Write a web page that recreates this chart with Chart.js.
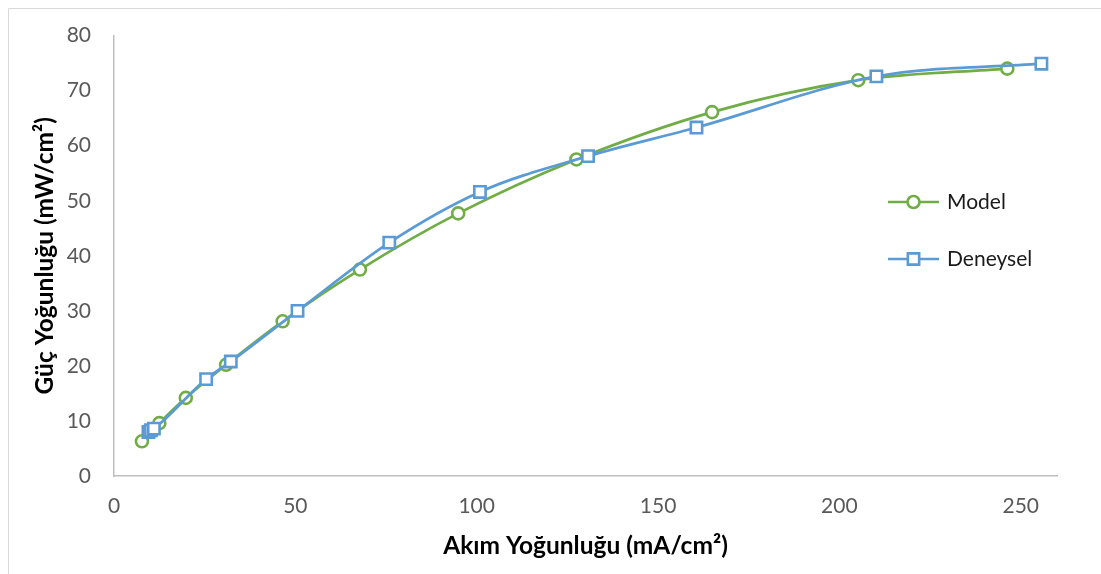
<!DOCTYPE html>
<html>
<head>
<meta charset="utf-8">
<script src="https://cdn.jsdelivr.net/npm/chart.js@4.4.1/dist/chart.umd.min.js"></script>
<style>
  html, body { margin: 0; padding: 0; background: #ffffff; }
  #wrap { position: relative; width: 1101px; height: 574px; }
  canvas { display: block; }
</style>
</head>
<body>
<div id="wrap"><canvas id="c" width="1101" height="574"></canvas></div>
<script>
// Current density (mA/cm²) and power density (mW/cm²) for each series
const modelX = [7.7, 12.5, 19.8, 30.9, 46.5, 67.8, 94.9, 127.5, 164.9, 205.2, 246.3];
const modelY = [6.3, 9.6, 14.2, 20.2, 28.1, 37.5, 47.7, 57.5, 66.1, 71.9, 74.0];

const deneyX = [9.5, 10.2, 11.0, 25.4, 32.2, 50.6, 75.9, 100.9, 130.7, 160.6, 210.2, 255.7];
const deneyY = [8.0, 8.3, 8.6, 17.6, 20.8, 30.0, 42.4, 51.6, 58.1, 63.3, 72.6, 74.9];

const seriesNames = ['Model', 'Deneysel'];
const xTicks = [0, 50, 100, 150, 200, 250];
const yTicks = [0, 10, 20, 30, 40, 50, 60, 70, 80];

const xTitle = 'Akım Yoğunluğu (mA/cm²)';
const yTitle = 'Güç Yoğunluğu (mW/cm²)';

const GREEN = '#70AD47';
const BLUE = '#5B9BD5';
const FONT = 'Lato, "Liberation Sans", sans-serif';

const toPoints = (xs, ys) => xs.map((x, i) => ({ x: x, y: ys[i] }));

// Thin frame along the top and left edge of the figure
const framePlugin = {
  id: 'frame',
  beforeDraw(chart) {
    const ctx = chart.ctx;
    ctx.save();
    ctx.fillStyle = '#ffffff';
    ctx.fillRect(0, 0, chart.width, chart.height);
    ctx.strokeStyle = '#d9d9d9';
    ctx.lineWidth = 1;
    ctx.beginPath();
    ctx.moveTo(8.5, chart.height);
    ctx.lineTo(8.5, 8.5);
    ctx.lineTo(chart.width, 8.5);
    ctx.stroke();
    ctx.restore();
  }
};

// Legend with a line sample and marker for each series, placed inside the plot
const lineLegend = {
  id: 'lineLegend',
  afterDraw(chart) {
    const ctx = chart.ctx;
    const x0 = 888, x1 = 939, textX = 947;
    const rows = [202, 259];
    chart.data.datasets.forEach((ds, i) => {
      const y = rows[i];
      ctx.save();
      ctx.strokeStyle = ds.borderColor;
      ctx.lineWidth = ds.borderWidth;
      ctx.beginPath();
      ctx.moveTo(x0, y);
      ctx.lineTo(x1, y);
      ctx.stroke();
      ctx.fillStyle = '#ffffff';
      ctx.lineWidth = ds.pointBorderWidth;
      const cx = (x0 + x1) / 2;
      ctx.beginPath();
      if (ds.pointStyle === 'rect') {
        const s = Math.SQRT1_2 * ds.pointRadius;
        ctx.rect(cx - s, y - s, 2 * s, 2 * s);
      } else {
        ctx.arc(cx, y, ds.pointRadius, 0, Math.PI * 2);
      }
      ctx.fill();
      ctx.stroke();
      ctx.fillStyle = '#1a1a1a';
      ctx.font = '21px ' + FONT;
      ctx.textBaseline = 'middle';
      ctx.textAlign = 'left';
      ctx.fillText(ds.label, textX, y);
      ctx.restore();
    });
  }
};

new Chart(document.getElementById('c'), {
  type: 'scatter',
  data: {
    datasets: [
      {
        label: seriesNames[0],
        data: toPoints(modelX, modelY),
        showLine: true,
        cubicInterpolationMode: 'monotone',
        borderColor: GREEN,
        borderWidth: 2.7,
        pointStyle: 'circle',
        pointRadius: 6,
        pointBorderWidth: 2.6,
        pointBackgroundColor: '#ffffff',
        pointBorderColor: GREEN,
        order: 1
      },
      {
        label: seriesNames[1],
        data: toPoints(deneyX, deneyY),
        showLine: true,
        cubicInterpolationMode: 'monotone',
        borderColor: BLUE,
        borderWidth: 2.7,
        pointStyle: 'rect',
        pointRadius: 8,
        pointBorderWidth: 2.6,
        pointBackgroundColor: '#ffffff',
        pointBorderColor: BLUE,
        order: 0
      }
    ]
  },
  options: {
    responsive: false,
    animation: false,
    events: [],
    layout: { padding: { left: 0, top: 34, right: 44, bottom: 0 } },
    plugins: {
      legend: { display: false },
      tooltip: { enabled: false }
    },
    scales: {
      x: {
        type: 'linear',
        min: 0,
        max: 260,
        afterBuildTicks(scale) {
          scale.ticks = xTicks.map(v => ({ value: v }));
        },
        afterFit(scale) { scale.height = 98; },
        grid: { display: true, drawOnChartArea: false, drawTicks: false },
        border: { display: true, color: '#bfbfbf', width: 1.5 },
        ticks: {
          padding: 18,
          color: '#595959',
          font: { family: FONT, size: 21 },
          maxRotation: 0
        },
        title: {
          display: true,
          text: xTitle,
          color: '#000000',
          font: { family: FONT, size: 24.5, weight: 'bold' },
          padding: { top: 0, bottom: 13 }
        }
      },
      y: {
        type: 'linear',
        min: 0,
        max: 80,
        afterBuildTicks(scale) {
          scale.ticks = yTicks.map(v => ({ value: v }));
        },
        afterFit(scale) { scale.width = 114; },
        grid: { display: true, drawOnChartArea: false, drawTicks: false },
        border: { display: true, color: '#bfbfbf', width: 1.5 },
        ticks: {
          padding: 23,
          color: '#595959',
          font: { family: FONT, size: 21 }
        },
        title: {
          display: true,
          text: yTitle,
          color: '#000000',
          font: { family: FONT, size: 24.5, weight: 'bold' },
          padding: { top: 30, bottom: 0 }
        }
      }
    }
  },
  plugins: [framePlugin, lineLegend]
});
</script>
</body>
</html>
